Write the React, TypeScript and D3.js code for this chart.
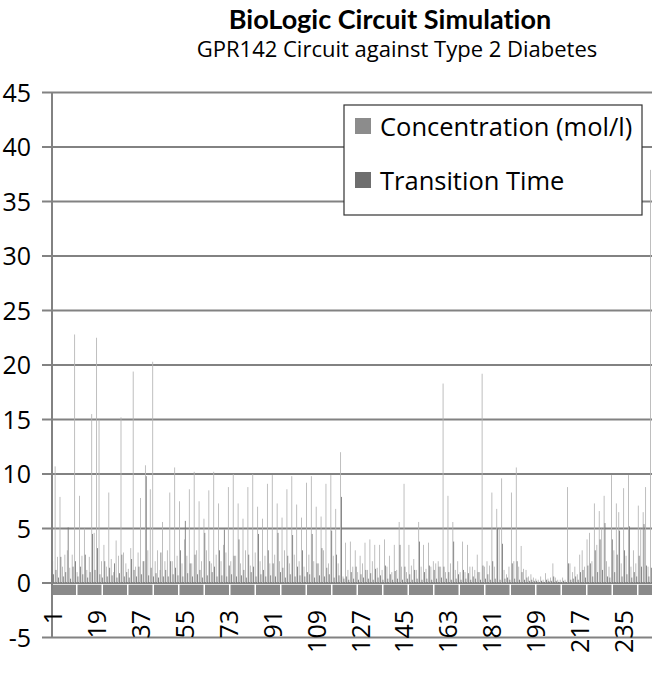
import React, { useEffect, useRef } from "react";
import * as d3 from "d3";

// simulation steps 1..246
const categories = d3.range(1, 247);

const concentration = [
  2.0, 10.7, 2.4, 7.9, 1.5, 2.6, 3.0, 1.4, 2.6, 22.8,
  1.0, 8.0, 2.5, 5.0, 1.2, 2.4, 15.5, 4.6, 22.5, 15.0,
  2.0, 3.5, 1.5, 8.3, 2.2, 1.0, 3.9, 2.5, 15.2, 2.8,
  1.8, 1.3, 3.2, 19.4, 1.5, 2.8, 7.8, 2.0, 10.8, 3.0,
  8.6, 20.3, 2.0, 3.0, 1.2, 5.6, 2.0, 3.0, 8.3, 2.0,
  10.6, 2.5, 7.5, 1.8, 4.0, 2.5, 8.6, 1.8, 10.2, 3.0,
  7.5, 2.0, 5.9, 3.0, 8.5, 1.8, 10.2, 2.6, 7.3, 2.0,
  3.5, 2.8, 8.8, 2.0, 10.0, 2.5, 7.3, 1.8, 5.9, 3.0,
  8.8, 1.6, 10.0, 2.8, 7.0, 2.0, 5.9, 2.5, 9.1, 1.8,
  9.9, 2.6, 7.3, 2.0, 6.0, 3.0, 8.6, 1.8, 9.8, 2.6,
  7.2, 2.0, 6.0, 1.5, 9.2, 2.6, 9.8, 2.0, 7.0, 1.8,
  6.1, 3.0, 9.1, 1.8, 9.9, 2.5, 6.8, 1.8, 12.0, 0.6,
  3.7, 1.2, 3.8, 1.5, 3.0, 1.0, 2.5, 1.8, 3.7, 1.2,
  4.0, 2.0, 3.5, 1.4, 3.5, 1.2, 4.0, 1.5, 2.5, 1.0,
  3.5, 1.2, 5.6, 1.5, 9.1, 1.0, 3.5, 1.6, 2.2, 1.2,
  5.6, 1.5, 3.5, 1.3, 3.7, 1.5, 2.0, 1.8, 2.0, 1.5,
  18.3, 1.0, 8.0, 1.8, 5.6, 1.2, 2.0, 1.0, 3.8, 1.0,
  3.5, 1.5, 1.5, 1.2, 2.6, 1.0, 19.2, 1.5, 2.0, 1.6,
  8.3, 1.5, 6.8, 5.0, 9.6, 1.2, 0.8, 1.5, 8.3, 2.0,
  10.6, 1.5, 3.4, 1.3, 1.2, 0.6, 0.8, 0.5, 0.4, 0.3,
  0.6, 0.3, 0.9, 0.4, 0.5, 1.8, 0.5, 0.3, 0.3, 0.5,
  0.3, 8.8, 1.8, 1.0, 1.5, 0.8, 2.6, 3.0, 1.5, 4.0,
  4.6, 2.0, 7.3, 3.5, 6.6, 5.0, 8.0, 2.0, 1.5, 9.9,
  3.0, 7.3, 6.5, 1.8, 8.7, 2.5, 9.9, 1.5, 3.0, 1.8,
  7.1, 5.0, 6.5, 8.8, 1.5, 37.9,
];

const transitionTime = [
  0.8, 1.2, 0.5, 2.4, 0.6, 1.0, 5.1, 0.4, 1.5, 2.0,
  0.6, 1.5, 0.8, 2.6, 0.5, 1.0, 4.5, 1.2, 3.2, 0.8,
  0.5, 2.0, 0.6, 1.4, 0.7, 1.8, 0.5, 0.9, 2.6, 0.6,
  1.0, 0.5, 2.2, 1.2, 0.6, 1.5, 0.8, 2.0, 9.8, 0.7,
  1.4, 0.6, 0.9, 0.5, 2.8, 0.6, 1.2, 0.6, 2.0, 0.8,
  1.4, 0.7, 3.0, 0.6, 5.7, 0.9, 1.8, 0.6, 2.6, 0.8,
  1.2, 0.5, 4.6, 0.7, 2.0, 1.0, 1.5, 0.6, 3.0, 0.7,
  4.9, 0.6, 1.6, 0.8, 2.5, 0.6, 4.0, 0.7, 1.2, 0.5,
  2.6, 1.0, 1.5, 0.6, 4.5, 0.8, 1.2, 0.6, 3.0, 0.7,
  1.8, 0.6, 4.6, 1.0, 1.4, 0.5, 2.5, 0.8, 4.4, 0.6,
  1.5, 0.7, 3.0, 0.6, 1.0, 0.8, 4.5, 0.5, 1.8, 0.7,
  3.2, 0.6, 1.4, 0.8, 4.8, 0.5, 2.6, 0.7, 7.9, 0.4,
  0.6, 0.3, 1.0, 0.4, 1.5, 0.3, 0.8, 0.5, 1.2, 0.4,
  0.9, 0.3, 1.3, 0.5, 0.7, 0.3, 1.6, 0.4, 0.8, 0.3,
  1.1, 0.4, 3.5, 0.3, 1.5, 0.4, 0.8, 0.3, 1.2, 0.4,
  3.8, 0.3, 1.0, 0.4, 1.6, 0.3, 1.2, 0.4, 1.5, 0.5,
  1.5, 0.4, 1.0, 0.3, 3.8, 0.4, 0.8, 0.3, 1.2, 0.4,
  0.9, 0.3, 0.6, 0.4, 1.0, 0.3, 1.6, 0.4, 0.8, 0.3,
  2.0, 0.4, 5.0, 0.3, 3.6, 0.4, 0.5, 0.3, 1.8, 0.4,
  2.0, 0.3, 1.0, 0.3, 0.5, 0.2, 0.3, 0.2, 0.2, 0.1,
  0.2, 0.1, 0.3, 0.2, 0.2, 0.6, 0.2, 0.1, 0.1, 0.2,
  0.1, 1.8, 0.3, 0.4, 0.6, 0.3, 1.0, 1.2, 0.5, 1.6,
  1.8, 0.6, 3.0, 1.0, 4.0, 1.2, 5.5, 0.6, 0.5, 4.0,
  1.0, 2.6, 4.8, 0.6, 3.0, 0.8, 5.2, 0.5, 1.0, 0.6,
  2.5, 1.5, 5.4, 1.6, 0.6, 1.4,
];

const seriesNames = ["Concentration (mol/l)", "Transition Time"];
const yTicks = [-5, 0, 5, 10, 15, 20, 25, 30, 35, 40, 45];
const xTickLabels = [1, 19, 37, 55, 73, 91, 109, 127, 145, 163, 181, 199, 217, 235];

const BioLogicChart = () => {
  const ref = useRef(null);

  useEffect(() => {
    const left = 52;
    const right = 652;
    const font = "'Open Sans', sans-serif";

    const svg = d3.select(ref.current);
    svg.selectAll("*").remove();

    const y = d3.scaleLinear().domain([-5, 45]).range([637.5, 92.5]);
    const x = d3
      .scaleBand()
      .domain(categories)
      .range([left, right])
      .paddingInner(0.3)
      .paddingOuter(0.1);
    const sub = d3.scaleBand().domain(seriesNames).range([0, x.bandwidth()]);
    const color = d3.scaleOrdinal(seriesNames, ["#b4b4b4", "#767676"]);

    // gridlines + tick marks
    svg
      .append("g")
      .selectAll("line")
      .data(yTicks)
      .join("line")
      .attr("x1", left - 10)
      .attr("x2", right)
      .attr("y1", (d) => y(d))
      .attr("y2", (d) => y(d))
      .attr("stroke", "#828282")
      .attr("stroke-width", 2);

    // gray strip under the zero line
    svg
      .append("line")
      .attr("x1", left)
      .attr("x2", right)
      .attr("y1", (y(-0.15) + y(-1.1)) / 2)
      .attr("y2", (y(-0.15) + y(-1.1)) / 2)
      .attr("stroke", "#8a8a8a")
      .attr("stroke-width", y(-1.1) - y(-0.15))
      .attr("stroke-dasharray", "24 1.5");

    const rows = categories.map((c, i) => ({
      c,
      values: [concentration[i], transitionTime[i]],
    }));

    svg
      .append("g")
      .selectAll("g")
      .data(rows)
      .join("g")
      .attr("transform", (d) => `translate(${x(d.c)},0)`)
      .selectAll("rect")
      .data((d) => d.values.map((v, k) => ({ key: seriesNames[k], v })))
      .join("rect")
      .attr("x", (d) => sub(d.key))
      .attr("width", sub.bandwidth())
      .attr("y", (d) => y(d.v))
      .attr("height", (d) => y(0) - y(d.v))
      .attr("fill", (d) => color(d.key));

    // y axis line
    svg
      .append("line")
      .attr("x1", left)
      .attr("x2", left)
      .attr("y1", y(45))
      .attr("y2", y(-5))
      .attr("stroke", "#828282")
      .attr("stroke-width", 2);

    // y labels
    svg
      .append("g")
      .selectAll("text")
      .data(yTicks)
      .join("text")
      .attr("x", 31)
      .attr("y", (d) => y(d))
      .attr("dy", "0.36em")
      .attr("text-anchor", "end")
      .style("font", `25px ${font}`)
      .text((d) => d);

    // x labels, rotated
    svg
      .append("g")
      .selectAll("text")
      .data(xTickLabels)
      .join("text")
      .attr(
        "transform",
        (d) => `translate(${x(d) + x.bandwidth() / 2},610) rotate(-90)`
      )
      .attr("dy", "0.36em")
      .attr("text-anchor", "end")
      .style("font", `25px ${font}`)
      .text((d) => d);

    // titles
    svg
      .append("text")
      .attr("x", 390)
      .attr("y", 29)
      .attr("text-anchor", "middle")
      .style("font", `bold 27px Lato, sans-serif`)
      .style("font-variant-ligatures", "none")
      .text("BioLogic Circuit Simulation");
    svg
      .append("text")
      .attr("x", 397)
      .attr("y", 57)
      .attr("text-anchor", "middle")
      .style("font", `22px ${font}`)
      .text("GPR142 Circuit against Type 2 Diabetes");

    // legend
    const legend = svg.append("g");
    legend
      .append("rect")
      .attr("x", 344)
      .attr("y", 105)
      .attr("width", 298)
      .attr("height", 110)
      .attr("fill", "#fff")
      .attr("stroke", "#333")
      .attr("stroke-width", 1.2);
    const item = legend
      .selectAll("g")
      .data(seriesNames)
      .join("g")
      .attr("transform", (d, i) => `translate(355,${118 + i * 54})`);
    item
      .append("rect")
      .attr("width", 16)
      .attr("height", 16)
      .attr("fill", (d, i) => (i === 0 ? "#8c8c8c" : "#6e6e6e"));
    item
      .append("text")
      .attr("x", 25)
      .attr("y", 18)
      .style("font", `25.5px ${font}`)
      .text((d) => d);
  }, []);

  return (
    <svg
      ref={ref}
      width={661}
      height={676}
      style={{ position: "absolute", left: 0, top: 0, background: "#fff" }}
    />
  );
};

export default function App() {
  return <BioLogicChart />;
}
